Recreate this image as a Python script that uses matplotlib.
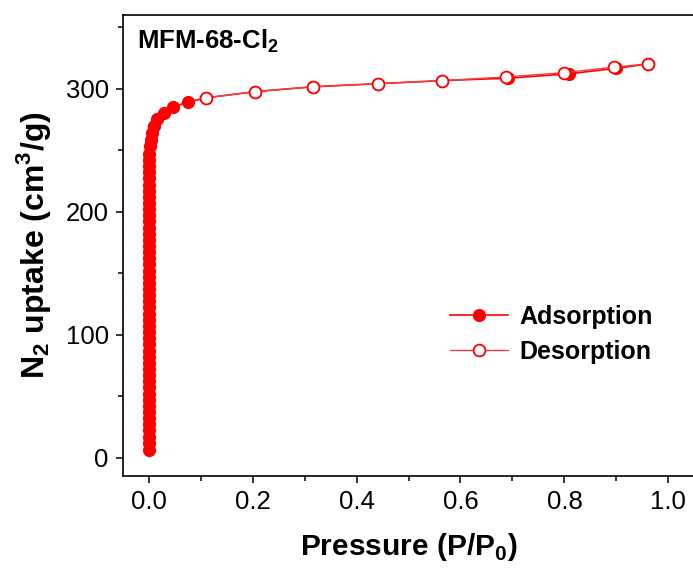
import matplotlib
matplotlib.use("Agg")
import matplotlib.pyplot as plt
from matplotlib.ticker import MultipleLocator

plt.rcParams['font.family'] = ['Liberation Sans', 'DejaVu Sans']
plt.rcParams['mathtext.fontset'] = 'custom'
plt.rcParams['mathtext.rm'] = 'Liberation Sans'
plt.rcParams['mathtext.bf'] = 'Liberation Sans:bold'

# adsorption branch (P/P0, cm3/g)
ads_p = [0.0001, 0.0001, 0.0001, 0.0001, 0.0001, 0.0001, 0.0001, 0.0001, 0.0001, 0.0001,
         0.0001, 0.0001, 0.0001, 0.0001, 0.0001, 0.0001, 0.0001, 0.0001, 0.0001, 0.0001,
         0.0001, 0.0001, 0.0001, 0.0002, 0.0002, 0.0002, 0.0002, 0.0002, 0.0002, 0.0002,
         0.0002, 0.0002, 0.0003, 0.0003, 0.0003, 0.0003, 0.0003, 0.0004, 0.0004, 0.0004,
         0.0005, 0.0005, 0.0006, 0.0007, 0.0008, 0.0009, 0.0011, 0.0013, 0.0016,
         0.0025, 0.004, 0.006, 0.010, 0.017, 0.029, 0.047, 0.075,
         0.111, 0.204, 0.317, 0.441, 0.565, 0.692, 0.808, 0.900, 0.960]
ads_v = [6.5, 12, 17, 22, 27, 32, 37, 42, 47, 52,
         57, 62, 67, 72, 77, 82, 87, 92, 97, 102,
         107, 112, 117, 122, 127, 132, 137, 142, 147, 152,
         157, 162, 167, 172, 177, 182, 187, 192, 197, 202,
         207, 212, 217, 222, 227, 232, 237, 242, 247,
         253, 258.5, 264, 269.5, 275, 280, 285, 289,
         292.5, 297.5, 301.5, 304, 306.5, 308.5, 312, 316.5, 320]

# desorption branch
des_p = [0.960, 0.895, 0.800, 0.688, 0.565, 0.441, 0.317, 0.204, 0.111]
des_v = [320, 317.5, 313, 309.5, 306.5, 304, 301.5, 297.5, 292.5]

fig = plt.figure(figsize=(6.93, 5.70), dpi=100)
ax = fig.add_axes([0.177, 0.165, 0.825, 0.809])

ax.plot(ads_p, ads_v, color='red', lw=1.2, marker='o', ms=8.5,
        mfc='red', mec='red', label='Adsorption')
ax.plot(des_p, des_v, color='#f04040', lw=1.0, marker='o', ms=8.5,
        mfc='white', mec='red', mew=1.3, label='Desorption')

ax.set_xlim(-0.05, 1.05)
ax.set_ylim(-15, 360)
ax.xaxis.set_major_locator(MultipleLocator(0.2))
ax.xaxis.set_minor_locator(MultipleLocator(0.1))
ax.yaxis.set_major_locator(MultipleLocator(100))
ax.yaxis.set_minor_locator(MultipleLocator(50))
ax.set_xticks([0.0, 0.2, 0.4, 0.6, 0.8, 1.0])
ax.set_xticklabels(['0.0', '0.2', '0.4', '0.6', '0.8', '1.0'])
ax.tick_params(which='both', direction='out', width=1.1, labelsize=18.5, pad=5)
ax.tick_params(which='major', length=5)
ax.tick_params(which='minor', length=3.5)
for s in ax.spines.values():
    s.set_linewidth(1.2)

ax.set_xlabel(r'Pressure (P/P$_\mathbf{0}$)', fontsize=21.5, fontweight='bold', labelpad=12)
ax.set_ylabel(r'N$_\mathbf{2}$ uptake (cm$^\mathbf{3}$/g)', fontsize=23, fontweight='bold', labelpad=9)

ax.text(0.025, 0.928, r'MFM-68-Cl$_\mathbf{2}$', transform=ax.transAxes,
        fontsize=18.5, fontweight='bold', va='baseline', ha='left')

leg = ax.legend(loc='center left', bbox_to_anchor=(0.573, 0.307), frameon=False,
                prop={'weight': 'bold', 'size': 18}, handlelength=2.3,
                handletextpad=0.45, labelspacing=0.42, borderpad=0, borderaxespad=0)

fig.savefig('out.png', dpi=100)
